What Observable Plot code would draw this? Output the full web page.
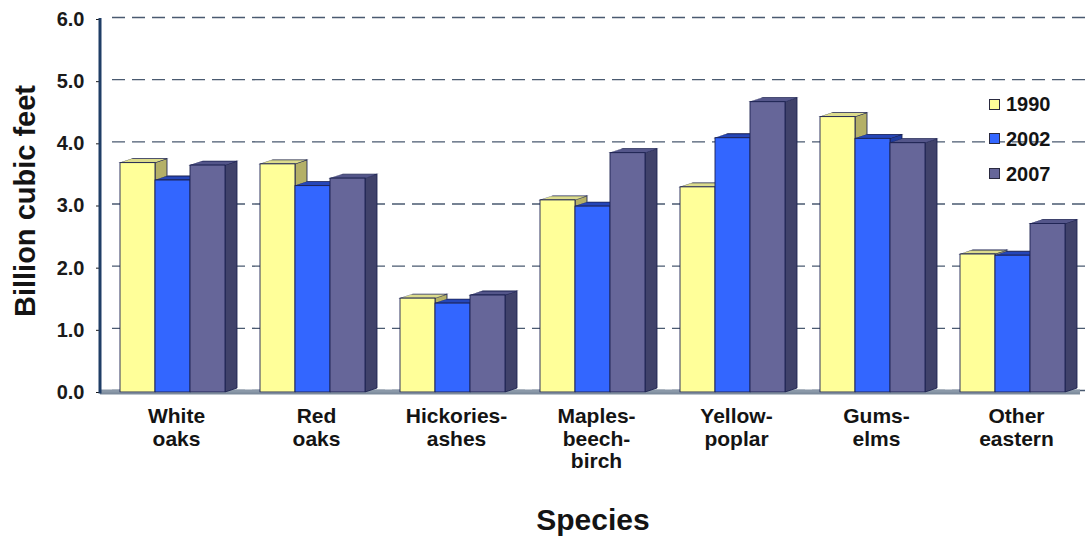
<!DOCTYPE html>
<html>
<head>
<meta charset="utf-8">
<script src="https://cdn.jsdelivr.net/npm/d3@7"></script>
<script src="https://cdn.jsdelivr.net/npm/@observablehq/plot@0.6"></script>
<style>
  body { margin: 0; background: #fff; }
  #chart {
    position: relative; width: 1088px; height: 538px;
    font-family: "Liberation Sans", Arial, sans-serif; font-weight: bold; color: #141414;
  }
  #chart svg { position: absolute; left: 0; top: 0; }
  /* oblique 3D faces: side faces lean up to the right, top faces recede to the right */
  #chart rect[aria-label="side"] { transform-box: fill-box; transform-origin: 0 0; transform: skewY(-18.435deg); }
  #chart rect[aria-label="top"] { transform-box: fill-box; transform-origin: 0 100%; transform: skewX(-71.565deg); }
  .ytitle {
    position: absolute; left: 25px; top: 201px; font-size: 29px; white-space: nowrap;
    transform: translate(-50%, -50%) rotate(-90deg);
  }
  .xtitle {
    position: absolute; left: 593px; top: 505px; font-size: 30px; line-height: 30px;
    transform: translateX(-50%); white-space: nowrap;
  }
  .legend-item {
    position: absolute; left: 989px; height: 20px; display: flex; align-items: center;
    font-size: 20px; line-height: 20px;
  }
  .legend-item .sw { width: 9px; height: 9px; border: 1px solid #2a2a40; margin-right: 6px; }
</style>
</head>
<body>
<div id="chart">
  <div class="ytitle">Billion cubic feet</div>
  <div class="xtitle">Species</div>
</div>
<script>
// Growing-stock volume by species group, eastern hardwoods (billion cubic feet)
const species = ["White oaks", "Red oaks", "Hickories-ashes", "Maples-beech-birch", "Yellow-poplar", "Gums-elms", "Other eastern"];
const speciesLabels = ["White\noaks", "Red\noaks", "Hickories-\nashes", "Maples-\nbeech-\nbirch", "Yellow-\npoplar", "Gums-\nelms", "Other\neastern"];
const years = ["1990", "2002", "2007"];
const vol1990 = [3.69, 3.67, 1.51, 3.09, 3.30, 4.43, 2.22];
const vol2002 = [3.41, 3.32, 1.43, 2.99, 4.09, 4.08, 2.20];
const vol2007 = [3.65, 3.44, 1.56, 3.85, 4.67, 4.01, 2.71];
const yTicks = [0, 1, 2, 3, 4, 5, 6];

const series = [vol1990, vol2002, vol2007];
const frontFill = ["#ffff99", "#3366ff", "#666699"];
const sideFill = ["#b4b067", "#1f3c9e", "#40426a"];
const topFill = ["#dcdc8c", "#2546b8", "#54568a"];
const edge = "#1b2150";

const W = 1088, H = 538;
const M = {top: 19, right: 8, bottom: 146, left: 100};
const bandW = (W - M.left - M.right) / species.length;
const barW = bandW / 4;          // three bars per group plus half a bar of padding each side
const depthX = 12, depthY = 4;   // oblique depth of the 3D boxes

const rows = species.flatMap((s, i) => years.map((yr, j) => ({species: s, year: yr, value: series[j][i]})));
const byYear = yr => rows.filter(r => r.year === yr);

const marks = [
  Plot.gridY({ticks: yTicks, stroke: "#4a5a70", strokeOpacity: 1, strokeWidth: 1.4, strokeDasharray: "13,7", dx: depthX, dy: -2}),
  Plot.ruleY([0], {stroke: "#8a98a8", strokeWidth: 4, dy: -1})
];
// back-to-front: side faces, then top faces, then front faces
years.forEach((yr, j) => marks.push(Plot.barY(byYear(yr), {
  fx: "species", x: "year", y: "value", fill: sideFill[j], stroke: edge, strokeWidth: 0.8,
  insetRight: barW - depthX, dx: barW, ariaLabel: () => "side"
})));
years.forEach((yr, j) => marks.push(Plot.barY(byYear(yr), {
  fx: "species", x: "year", y1: "value", y2: "value", insetTop: -depthY,
  fill: topFill[j], stroke: edge, strokeWidth: 0.8, ariaLabel: () => "top"
})));
years.forEach((yr, j) => marks.push(Plot.barY(byYear(yr), {
  fx: "species", x: "year", y: "value", fill: frontFill[j], stroke: edge, strokeWidth: 0.9
})));
marks.push(
  Plot.ruleY([0], {stroke: "#7d8b9c", strokeWidth: 2, dy: 1}),
  Plot.axisY({ticks: yTicks, tickFormat: d3.format(".1f"), tickSize: 4, tickPadding: 12,
    fontSize: 20, fontWeight: "bold", color: "#1a1a1a", label: null}),
  Plot.axisFx({anchor: "bottom", tickFormat: d => speciesLabels[species.indexOf(d)], tickSize: 0, tickPadding: 15,
    fontSize: 21, fontWeight: "bold", lineHeight: 1.07, color: "#141414", label: null, dx: 6})
);

const chart = Plot.plot({
  width: W, height: H,
  marginTop: M.top, marginRight: M.right, marginBottom: M.bottom, marginLeft: M.left,
  style: {fontFamily: "Liberation Sans, Arial, sans-serif", background: "transparent"},
  fx: {domain: species, padding: 0},
  x: {domain: years, paddingInner: 0, paddingOuter: 0.5, align: 0.57, axis: null},
  y: {domain: [0, 6]},
  marks
});

// front vertical axis line
const ys = chart.scale("y");
d3.select(chart).append("line")
  .attr("x1", M.left).attr("x2", M.left)
  .attr("y1", ys.apply(0) + 1.5).attr("y2", ys.apply(6) - 1)
  .attr("stroke", "#1f3d66").attr("stroke-width", 3);

const root = document.getElementById("chart");
root.prepend(chart);

// legend
years.forEach((yr, j) => {
  const item = document.createElement("div");
  item.className = "legend-item";
  item.style.top = (94 + j * 34.75) + "px";
  item.innerHTML = `<span class="sw" style="background:${frontFill[j]}"></span>${yr}`;
  root.appendChild(item);
});
</script>
</body>
</html>
